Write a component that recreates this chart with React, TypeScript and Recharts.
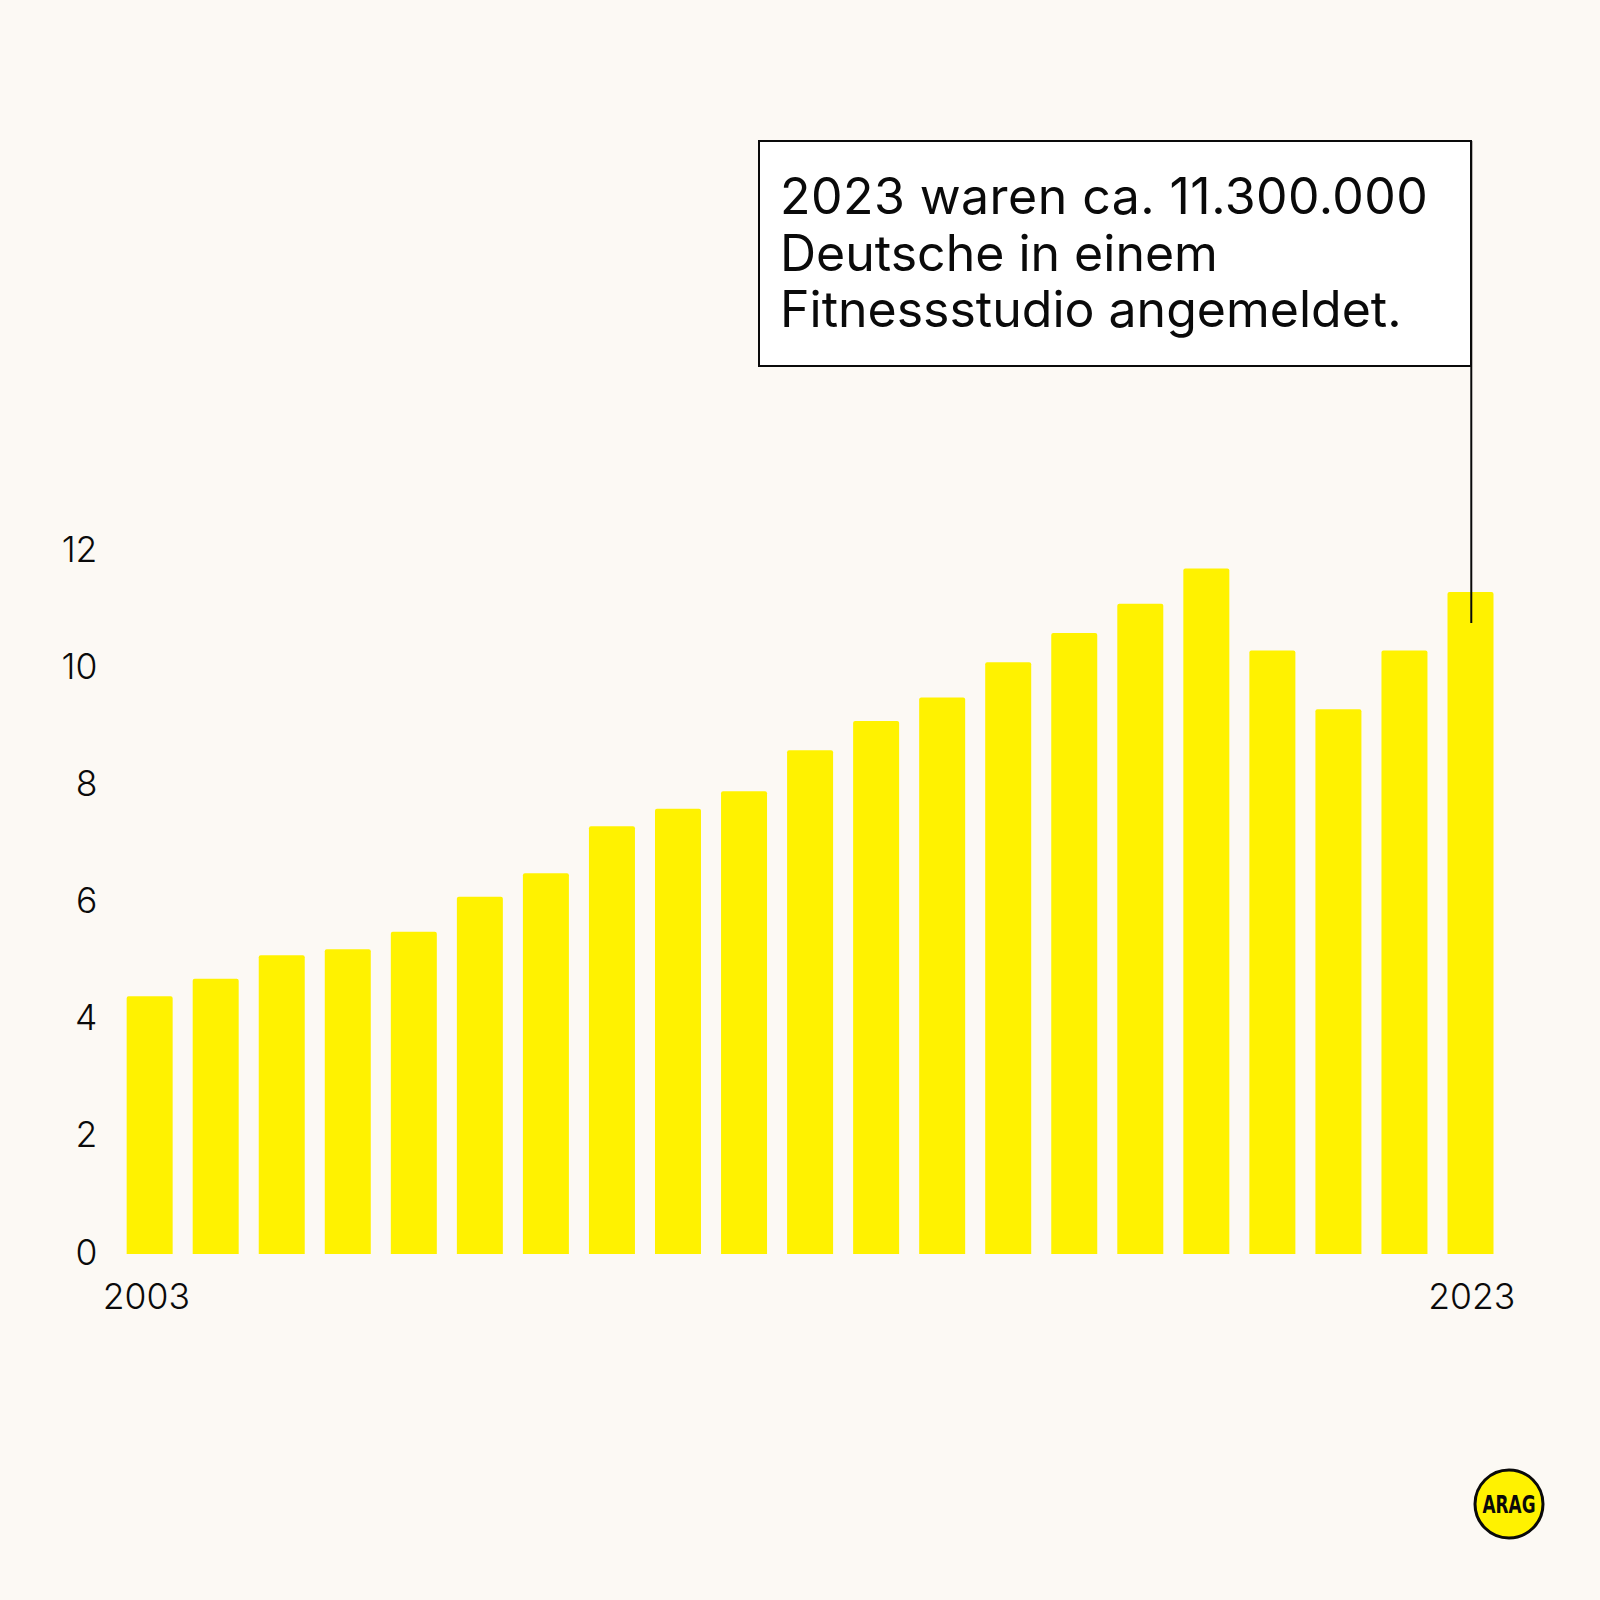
import React from "react";
import { BarChart, Bar, XAxis, YAxis, ReferenceLine } from "recharts";

const years = [
  "2003", "2004", "2005", "2006", "2007", "2008", "2009", "2010", "2011", "2012", "2013",
  "2014", "2015", "2016", "2017", "2018", "2019", "2020", "2021", "2022", "2023",
];
const members = [
  4.4, 4.7, 5.1, 5.2, 5.5, 6.1, 6.5, 7.3, 7.6, 7.9, 8.6,
  9.1, 9.5, 10.1, 10.6, 11.1, 11.7, 10.3, 9.3, 10.3, 11.3,
];
const yTicks = [0, 2, 4, 6, 8, 10, 12];
const xTicks = ["2003", "2023"];
const calloutLines = ["2023 waren ca. 11.300.000", "Deutsche in einem", "Fitnessstudio angemeldet."];

const data = years.map((year, i) => ({ year, members: members[i] }));

const BG = "#FCF9F4";
const YELLOW = "#FFF200";
const INK = "#0A0A0A";
const FONT = "Inter, sans-serif";

const tickStyle = { fontFamily: FONT, fontSize: 35.5, fontWeight: 300, fill: INK };

// first label sits a bit left of its bar, last one a bit right
const YearTick = ({ x, y, payload, index }: any) => (
  <text x={x + (index === 0 ? -3 : 1.5)} y={y + 4} textAnchor="middle" dominantBaseline="hanging" {...tickStyle}>
    {payload.value}
  </text>
);

export default function App() {
  return (
    <div style={{ position: "absolute", left: 0, top: 0, width: 1600, height: 1600, background: BG, overflow: "hidden" }}>
      <BarChart
        width={1600}
        height={1600}
        data={data}
        barCategoryGap={10.25}
        margin={{ top: 551, right: 96.7, bottom: 246, left: 0 }}
      >
        <XAxis
          dataKey="year"
          ticks={xTicks}
          interval={0}
          axisLine={false}
          tickLine={false}
          tickMargin={18}
          height={100}
          tick={YearTick}
        />
        <YAxis
          width={116.4}
          domain={[0, 12]}
          ticks={yTicks}
          axisLine={false}
          tickLine={false}
          tickMargin={19}
          tick={{ ...tickStyle, dx: 6, dy: -2 }}
        />
        <Bar dataKey="members" fill={YELLOW} radius={[2, 2, 0, 0]} isAnimationActive={false} />
        <ReferenceLine
          segment={[{ x: "2023", y: 10.77 }, { x: "2023", y: 19 }]}
          stroke={INK}
          strokeWidth={2}
          ifOverflow="visible"
          style={{ transform: "translateX(1px)" }}
        />
      </BarChart>

      <div
        style={{
          position: "absolute",
          left: 758,
          top: 140,
          width: 714,
          height: 227,
          boxSizing: "border-box",
          border: `2px solid ${INK}`,
          background: "#FFFFFF",
          padding: "26px 0 0 20px",
          fontFamily: FONT,
          fontSize: 50,
          fontWeight: 400,
          lineHeight: "56.6px",
          color: INK,
          whiteSpace: "nowrap",
        }}
      >
        {calloutLines.map((line, i) => (
          <div key={line} style={{ letterSpacing: i === 0 ? 0.45 : 0 }}>{line}</div>
        ))}
      </div>

      <svg style={{ position: "absolute", left: 1430, top: 1465 }} width={160} height={80}>
        <circle cx={79} cy={39} r={34} fill={YELLOW} stroke={INK} strokeWidth={3} />
        <text
          x={79}
          y={48}
          textAnchor="middle"
          fontFamily="'DejaVu Sans', sans-serif"
          fontWeight={700}
          fontSize={25}
          textLength={53}
          lengthAdjust="spacingAndGlyphs"
          fill={INK}
        >
          ARAG
        </text>
      </svg>
    </div>
  );
}
